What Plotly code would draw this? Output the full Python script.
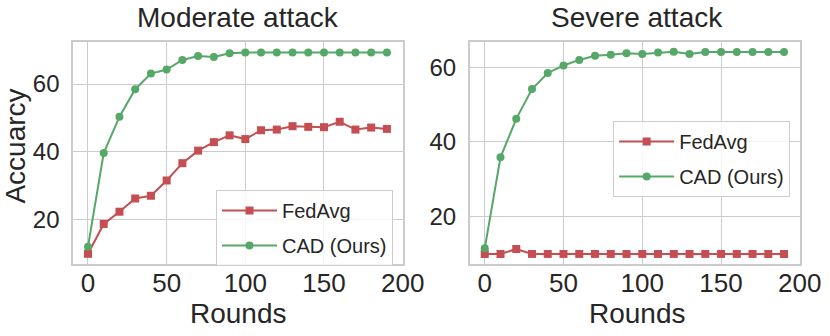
import plotly.graph_objects as go

# Rounds of federated training
rounds = [0, 10, 20, 30, 40, 50, 60, 70, 80, 90, 100, 110, 120, 130, 140, 150, 160, 170, 180, 190]

# Moderate attack accuracy
moderate_fedavg = [10.0, 18.8, 22.4, 26.3, 27.1, 31.6, 36.7, 40.4, 42.9, 44.9, 43.8, 46.4, 46.6, 47.6, 47.4, 47.3, 48.9, 46.6, 47.2, 46.8]
moderate_cad = [12.1, 39.7, 50.4, 58.5, 63.1, 64.3, 67.1, 68.3, 68.0, 69.1, 69.3, 69.3, 69.3, 69.3, 69.3, 69.3, 69.3, 69.3, 69.3, 69.3]

# Severe attack accuracy
severe_fedavg = [10.0, 10.0, 11.3, 10.0, 10.0, 10.0, 10.0, 10.0, 10.0, 10.0, 10.0, 10.0, 10.0, 10.0, 10.0, 10.0, 10.0, 10.0, 10.0, 10.0]
severe_cad = [11.5, 35.9, 46.2, 54.2, 58.5, 60.5, 62.0, 63.1, 63.4, 63.8, 63.6, 64.0, 64.2, 63.6, 64.1, 64.1, 64.1, 64.1, 64.1, 64.1]

x_ticks = [0, 50, 100, 150, 200]
y_ticks = [20, 40, 60]

RED = "#C44E52"
GREEN = "#55A868"
GRID = "#cccccc"
TEXT = "#262626"
FONT = "Liberation Sans, Arial, sans-serif"

fig = go.Figure()

panels = [
    ("", "", moderate_fedavg, moderate_cad, "legend", [7.0, 72.4]),
    ("2", "2", severe_fedavg, severe_cad, "legend2", [7.3, 66.8]),
]
for xs, ys, fedavg, cad, leg, yrange in panels:
    fig.add_trace(go.Scatter(
        x=rounds, y=fedavg, name="FedAvg", mode="lines+markers",
        line=dict(color=RED, width=2), marker=dict(symbol="square", size=8, color=RED),
        xaxis="x" + xs, yaxis="y" + ys, legend=leg, legendgroup="fedavg" + xs,
    ))
    fig.add_trace(go.Scatter(
        x=rounds, y=cad, name="CAD (Ours)", mode="lines+markers",
        line=dict(color=GREEN, width=2), marker=dict(symbol="circle", size=8, color=GREEN),
        xaxis="x" + xs, yaxis="y" + ys, legend=leg, legendgroup="cad" + xs,
    ))

axis_common = dict(
    showgrid=True, gridcolor=GRID, gridwidth=1, zeroline=False, automargin=False,
    showline=True, linecolor=GRID, linewidth=1.5, mirror=True, ticks="",
)
xtick_font = dict(family=FONT, size=26, color=TEXT)
ytick_font = dict(family=FONT, size=24, color=TEXT)

legend_common = dict(
    xanchor="right", yanchor="top",
    bgcolor="rgba(255,255,255,0.8)", bordercolor=GRID, borderwidth=1,
    font=dict(family=FONT, size=20, color=TEXT),
    traceorder="grouped", tracegroupgap=6, itemwidth=55,
)

fig.update_layout(
    width=830, height=336,
    margin=dict(l=0, r=0, t=0, b=0),
    paper_bgcolor="white", plot_bgcolor="white",
    font=dict(family=FONT, color=TEXT),
    xaxis=dict(domain=[0.088, 0.4855], range=[-9.5, 200.2], tickvals=x_ticks, anchor="y",
               ticklabelstandoff=-5, tickfont=xtick_font, **axis_common),
    yaxis=dict(domain=[0.2143, 0.875], range=panels[0][5], tickvals=y_ticks, anchor="x",
               ticklabelstandoff=7, tickfont=ytick_font, **axis_common),
    xaxis2=dict(domain=[0.566, 0.964], range=[-9.5, 200.2], tickvals=x_ticks, anchor="y2",
                ticklabelstandoff=-5, tickfont=xtick_font, **axis_common),
    yaxis2=dict(domain=[0.2143, 0.875], range=panels[1][5], tickvals=y_ticks, anchor="x2",
                ticklabelstandoff=7, tickfont=ytick_font, **axis_common),
    legend=dict(x=0.4735, y=0.4345, **legend_common),
    legend2=dict(x=0.952, y=0.64, **legend_common),
    showlegend=True,
)

# Panel titles and shared axis labels
for text, x, y, size, angle in [
    ("Moderate attack", 0.2865, 0.949, 28, 0),
    ("Severe attack", 0.7675, 0.949, 28, 0),
    ("Rounds", 0.2873, 0.068, 28, 0),
    ("Rounds", 0.7675, 0.068, 28, 0),
    ("Accuarcy", 0.019, 0.566, 28, -90),
]:
    fig.add_annotation(text=text, x=x, y=y, xref="paper", yref="paper", xanchor="center", yanchor="middle",
                       textangle=angle, showarrow=False, font=dict(family=FONT, size=size, color=TEXT))

# drop the browser's default page margin so the figure sits at the top-left corner
fig.write_html("out.html", config={"displayModeBar": False},
               post_script="document.body.style.margin = '0';")
